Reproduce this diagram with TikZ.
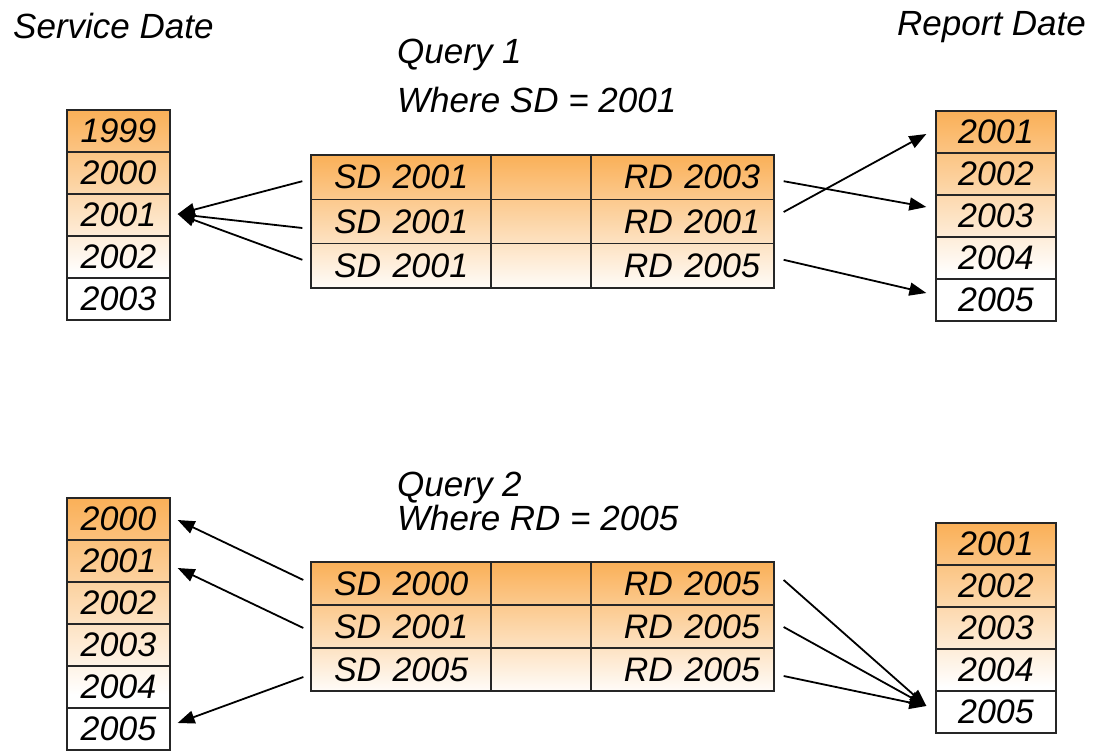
\documentclass[tikz,border=0pt]{standalone}
\usepackage{fontspec}
\setmainfont{Liberation Sans}
\usetikzlibrary{arrows.meta}
\definecolor{org}{RGB}{250,176,88}
\pgfdeclareverticalshading{colshade}{100bp}{color(0bp)=(white); color(25bp)=(white); color(36bp)=(white); color(75bp)=(org); color(100bp)=(org)}
\pgfdeclareverticalshading{tabshade}{100bp}{color(0bp)=(white); color(25bp)=(white!96!org); color(75bp)=(org); color(100bp)=(org)}
\begin{document}
\begin{tikzpicture}[x=1pt,y=-1pt,
  cell/.style={draw=black!85, line width=1.3pt, minimum height=42pt, inner sep=0pt,
    font=\fontsize{34}{34}\selectfont\itshape},
  ycell/.style={cell, minimum width=#1},
  sdcell/.style={cell, minimum width=180pt, text width=166pt, align=left, inner xsep=7pt},
  midcell/.style={cell, minimum width=100pt},
  rdcell/.style={cell, minimum width=183pt, text width=155pt, align=right, inner xsep=14pt},
  lbl/.style={anchor=base west, inner sep=0pt, font=\fontsize{35}{35}\selectfont\itshape},
  arr/.style={line width=1.8pt, -{Triangle[length=17pt,width=13pt]}}]
\useasboundingbox (0,0) rectangle (1093,755);

% labels
\node[lbl] (svc) at (13,38) {Service Date};
\node[lbl] (rep) at (897,35) {Report Date};
\node[lbl] (q1) at (397,63) {Query 1};
\node[lbl] (w1) at (397,112) {Where SD = 2001};
\node[lbl] (q2) at (397,496) {Query 2};
\node[lbl] (w2) at (397,530) {Where RD = 2005};

% shadings
\shade[shading=colshade] (67,110) rectangle (170,320);
\shade[shading=colshade] (936,111) rectangle (1056,321);
\shade[shading=colshade] (67,498) rectangle (170,750);
\shade[shading=colshade] (936,523) rectangle (1056,733);
\shade[shading=tabshade] (311,155) rectangle (774,288);
\shade[shading=tabshade] (311,562) rectangle (774,691);

% top left column
\foreach \t [count=\i] in {1999,2000,2001,2002,2003}
  \node[ycell=103pt, minimum height=42pt] (tl\i) at (118.5,89+42*\i) {\t};
% top right column
\foreach \t [count=\i] in {2001,2002,2003,2004,2005}
  \node[ycell=120pt, minimum height=42pt] (tr\i) at (996,90+42*\i) {\t};
% bottom left column
\foreach \t [count=\i] in {2000,2001,2002,2003,2004,2005}
  \node[ycell=103pt, minimum height=42pt] (bl\i) at (118.5,477+42*\i) {\t};
% bottom right column
\foreach \t [count=\i] in {2001,2002,2003,2004,2005}
  \node[ycell=120pt, minimum height=42pt] (br\i) at (996,502+42*\i) {\t};

% query 1 table
\node[sdcell, minimum height=44.3pt] (a1) at (401,177.2) {\hspace*{16pt}SD 2001};
\node[midcell, minimum height=44.3pt] (am1) at (541,177.2) {};
\node[rdcell, minimum height=44.3pt] (ar1) at (682.5,177.2) {RD 2003};
\node[sdcell, minimum height=44.3pt] (a2) at (401,221.5) {\hspace*{16pt}SD 2001};
\node[midcell, minimum height=44.3pt] (am2) at (541,221.5) {};
\node[rdcell, minimum height=44.3pt] (ar2) at (682.5,221.5) {RD 2001};
\node[sdcell, minimum height=44.3pt] (a3) at (401,265.8) {\hspace*{16pt}SD 2001};
\node[midcell, minimum height=44.3pt] (am3) at (541,265.8) {};
\node[rdcell, minimum height=44.3pt] (ar3) at (682.5,265.8) {RD 2005};

% query 2 table
\node[sdcell, minimum height=43pt] (b1) at (401,583.5) {\hspace*{16pt}SD 2000};
\node[midcell, minimum height=43pt] (bm1) at (541,583.5) {};
\node[rdcell, minimum height=43pt] (br1x) at (682.5,583.5) {RD 2005};
\node[sdcell, minimum height=43pt] (b2) at (401,626.5) {\hspace*{16pt}SD 2001};
\node[midcell, minimum height=43pt] (bm2) at (541,626.5) {};
\node[rdcell, minimum height=43pt] (br2x) at (682.5,626.5) {RD 2005};
\node[sdcell, minimum height=43pt] (b3) at (401,669.5) {\hspace*{16pt}SD 2005};
\node[midcell, minimum height=43pt] (bm3) at (541,669.5) {};
\node[rdcell, minimum height=43pt] (br3x) at (682.5,669.5) {RD 2005};

% query 1 arrows
\draw[arr] ([xshift=-8pt,yshift=-4pt]a1.west) -- ([xshift=7pt,yshift=1pt]tl3.east);
\draw[arr] ([xshift=-8pt,yshift=-6.5pt]a2.west) -- ([xshift=7pt,yshift=1pt]tl3.east);
\draw[arr] ([xshift=-8pt,yshift=6pt]a3.west) -- ([xshift=7pt,yshift=1pt]tl3.east);
\draw[arr] ([xshift=9pt,yshift=-4pt]ar1.east) -- ([xshift=-9pt,yshift=9pt]tr3.west);
\draw[arr] ([xshift=9pt,yshift=9.5pt]ar2.east) -- ([xshift=-9pt,yshift=-2pt]tr1.west);
\draw[arr] ([xshift=9pt,yshift=6pt]ar3.east) -- ([xshift=-9pt,yshift=7pt]tr5.west);

% query 2 arrows
\draw[arr] ([xshift=-7pt,yshift=3.5pt]b1.west) -- ([xshift=7pt,yshift=-1pt]bl1.east);
\draw[arr] ([xshift=-7pt,yshift=-1.5pt]b2.west) -- ([xshift=7pt,yshift=-7pt]bl2.east);
\draw[arr] ([xshift=-7pt,yshift=-7.5pt]b3.west) -- ([xshift=7pt,yshift=6pt]bl6.east);
\draw[arr] ([xshift=9pt,yshift=3.5pt]br1x.east) -- ([xshift=-9pt,yshift=6pt]br5.west);
\draw[arr] ([xshift=9pt,yshift=-0.5pt]br2x.east) -- ([xshift=-9pt,yshift=6pt]br5.west);
\draw[arr] ([xshift=9pt,yshift=-6.5pt]br3x.east) -- ([xshift=-9pt,yshift=6pt]br5.west);
\end{tikzpicture}
\end{document}
